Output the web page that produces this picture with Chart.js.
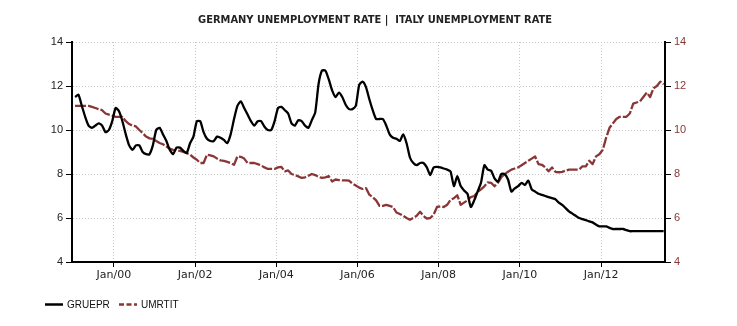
<!DOCTYPE html>
<html>
<head>
<meta charset="utf-8">
<script src="https://cdn.jsdelivr.net/npm/chart.js@4/dist/chart.umd.min.js"></script>
<style>
  html, body { margin: 0; padding: 0; background: #fff; }
  #wrap { width: 737px; height: 326px; }
</style>
</head>
<body>
<div id="wrap"><canvas id="myChart" width="737" height="326"></canvas></div>
<script>
'use strict';

// monthly series, Jan 1999 .. Jul 2013
const startYear = 1999;
const germany = [
  11.5, 11.6, 11.1, 10.6, 10.2, 10.1, 10.2, 10.3, 10.2, 9.9, 10.0, 10.4,
  11.0, 10.85, 10.4, 9.8, 9.3, 9.1, 9.3, 9.3, 9.0, 8.9, 8.9, 9.3,
  10.0, 10.1, 9.8, 9.5, 9.1, 8.9, 9.2, 9.2, 9.05, 8.95, 9.4, 9.7,
  10.4, 10.4, 9.9, 9.6, 9.5, 9.5, 9.7, 9.65, 9.55, 9.4, 9.8, 10.5,
  11.1, 11.3, 11.0, 10.7, 10.4, 10.2, 10.4, 10.4, 10.15, 10.0, 10.0, 10.4,
  11.0, 11.05, 10.9, 10.75, 10.3, 10.2, 10.45, 10.4, 10.2, 10.1, 10.45, 10.8,
  12.1, 12.7, 12.7, 12.3, 11.8, 11.5, 11.7, 11.5, 11.15, 10.95, 10.95, 11.1,
  12.05, 12.2, 11.95, 11.4, 10.9, 10.5, 10.5, 10.5, 10.2, 9.8, 9.65, 9.6,
  9.5, 9.8, 9.4, 8.75, 8.5, 8.4, 8.5, 8.5, 8.3, 7.95, 8.3, 8.32,
  8.3, 8.25, 8.2, 8.12, 7.45, 7.9, 7.45, 7.25, 7.1, 6.5, 6.8, 7.2,
  7.6, 8.4, 8.2, 8.15, 7.8, 7.65, 8.0, 8.0, 7.75, 7.2, 7.35, 7.45,
  7.6, 7.5, 7.7, 7.3, 7.2, 7.1, 7.05, 7.0, 6.95, 6.9, 6.85, 6.7,
  6.6, 6.45, 6.3, 6.2, 6.1, 6.0, 5.95, 5.9, 5.85, 5.8, 5.7, 5.62,
  5.62, 5.62, 5.55, 5.5, 5.5, 5.5, 5.5, 5.45, 5.4, 5.4, 5.4, 5.4,
  5.4, 5.4, 5.4, 5.4, 5.4, 5.4, 5.4
];
const italy = [
  11.1, 11.1, 11.1, 11.1, 11.1, 11.05, 11.0, 10.95, 10.9, 10.75, 10.7, 10.65,
  10.6, 10.6, 10.6, 10.4, 10.27, 10.2, 10.16, 10.0, 9.86, 9.7, 9.62, 9.6,
  9.5, 9.41, 9.35, 9.25, 9.15, 9.1, 9.07, 9.05, 9.0, 8.95, 8.88, 8.75,
  8.65, 8.5, 8.5, 8.88, 8.85, 8.8, 8.7, 8.62, 8.6, 8.55, 8.5, 8.42,
  8.8, 8.78, 8.7, 8.5, 8.5, 8.5, 8.45, 8.39, 8.3, 8.23, 8.23, 8.23,
  8.3, 8.32, 8.12, 8.16, 8.0, 7.95, 7.89, 7.82, 7.85, 7.92, 8.0, 7.95,
  7.87, 7.82, 7.85, 7.9, 7.66, 7.75, 7.72, 7.71, 7.71, 7.7, 7.56, 7.48,
  7.38, 7.32, 7.36, 7.06, 6.95, 6.8, 6.55, 6.55, 6.6, 6.55, 6.5, 6.25,
  6.18, 6.1, 6.0, 5.92, 6.0, 6.1, 6.28, 6.1, 5.97, 6.0, 6.15, 6.5,
  6.53, 6.5, 6.6, 6.83, 6.9, 7.03, 6.6, 6.7, 6.8, 6.95, 7.0, 7.18,
  7.3, 7.44, 7.62, 7.6, 7.44, 7.6, 7.85, 8.0, 8.1, 8.2, 8.25, 8.3,
  8.4, 8.5, 8.6, 8.7, 8.8, 8.45, 8.42, 8.3, 8.12, 8.3, 8.1, 8.08,
  8.1, 8.15, 8.2, 8.2, 8.2, 8.2, 8.35, 8.35, 8.6, 8.45, 8.8, 8.9,
  9.1, 9.65, 10.1, 10.3, 10.5, 10.6, 10.6, 10.6, 10.75, 11.2, 11.25, 11.3,
  11.5, 11.7, 11.5, 11.9, 12.0, 12.2, 12.08
];
const seriesNames = ['GRUEPR', 'UMRTIT'];
const titleText = 'GERMANY UNEMPLOYMENT RATE |  ITALY UNEMPLOYMENT RATE';
const tickLabels = ['Jan/00', 'Jan/02', 'Jan/04', 'Jan/06', 'Jan/08', 'Jan/10', 'Jan/12'];
const tickYears = [2000, 2002, 2004, 2006, 2008, 2010, 2012];
const yTicks = [4, 6, 8, 10, 12, 14];

const RED = '#8a3636';
const GRID = '#c9c9c9';

// x is months since Jan 1999, each value sits mid-month
function toPoints(arr) {
  return arr.map((v, i) => ({ x: i + 0.5, y: v }));
}
const tickMonths = tickYears.map(y => (y - startYear) * 12);

const titleAndLegend = {
  id: 'titleAndLegend',
  afterDraw(chart) {
    const ctx = chart.ctx;
    ctx.save();
    ctx.fillStyle = '#222';
    ctx.font = 'bold 11px "DejaVu Sans Condensed", "DejaVu Sans"';
    ctx.textAlign = 'center';
    ctx.textBaseline = 'middle';
    ctx.fillText(titleText, 375, 20);

    // legend row under the x axis
    const y = 304.5;
    const items = [
      { x: 45, ds: chart.data.datasets[0], dash: [] },
      { x: 119, ds: chart.data.datasets[1], dash: [5, 2.5] }
    ];
    ctx.font = '10px "Liberation Sans", Arial';
    ctx.textAlign = 'left';
    items.forEach(it => {
      ctx.beginPath();
      ctx.lineWidth = 2.5;
      ctx.strokeStyle = it.ds.borderColor;
      ctx.setLineDash(it.dash);
      ctx.moveTo(it.x, y);
      ctx.lineTo(it.x + 18, y);
      ctx.stroke();
      ctx.setLineDash([]);
      ctx.fillStyle = '#111';
      ctx.fillText(it.ds.label, it.x + 22, y + 0.5);
    });
    ctx.restore();
  }
};

function fixedTicks(values) {
  return function (scale) {
    scale.ticks = values.map(v => ({ value: v }));
  };
}

const ctx = document.getElementById('myChart').getContext('2d');
const myChart = new Chart(ctx, {
  type: 'line',
  data: {
    datasets: [
      {
        label: seriesNames[0],
        data: toPoints(germany),
        borderColor: '#000',
        borderWidth: 2.3,
        pointRadius: 0,
        tension: 0.2,
        fill: false,
        yAxisID: 'y'
      },
      {
        label: seriesNames[1],
        data: toPoints(italy),
        borderColor: RED,
        borderWidth: 2.3,
        borderDash: [11, 2],
        pointRadius: 0,
        tension: 0,
        fill: false,
        yAxisID: 'y2'
      }
    ]
  },
  options: {
    responsive: false,
    animation: false,
    devicePixelRatio: 1,
    layout: { padding: { top: 42, left: 0, right: 0, bottom: 0 } },
    plugins: {
      legend: { display: false },
      title: { display: false },
      tooltip: { enabled: false }
    },
    elements: { line: { borderJoinStyle: 'round', borderCapStyle: 'butt' } },
    scales: {
      x: {
        type: 'linear',
        min: -0.4,
        max: 174.9,
        afterBuildTicks: fixedTicks(tickMonths),
        afterFit(scale) { scale.height = 64; },
        grid: {
          color: GRID,
          lineWidth: 1,
          drawTicks: true,
          tickLength: 5,
          tickColor: '#000',
          tickWidth: 1
        },
        border: { display: true, color: '#000', width: 2, dash: [1, 2] },
        ticks: {
          autoSkip: false,
          maxRotation: 0,
          padding: 2,
          color: '#222',
          font: { family: '"DejaVu Sans"', size: 11 },
          callback(value) {
            const i = tickMonths.indexOf(value);
            return i >= 0 ? tickLabels[i] : '';
          }
        }
      },
      y: {
        position: 'left',
        min: 4,
        max: 14,
        afterBuildTicks: fixedTicks(yTicks),
        afterFit(scale) { scale.width = 72; },
        grid: {
          color: GRID,
          lineWidth: 1,
          tickLength: 6,
          tickColor: '#000',
          tickWidth: 1
        },
        border: { display: true, color: '#000', width: 2, dash: [1, 2] },
        ticks: {
          padding: 3,
          color: '#222',
          font: { family: '"Liberation Sans", Arial', size: 11 }
        }
      },
      y2: {
        position: 'right',
        min: 4,
        max: 14,
        afterBuildTicks: fixedTicks(yTicks),
        afterFit(scale) { scale.width = 72; },
        grid: {
          drawOnChartArea: false,
          tickLength: 6,
          tickColor: '#000',
          tickWidth: 1
        },
        border: { display: true, color: '#000', width: 2 },
        ticks: {
          padding: 3,
          color: RED,
          font: { family: '"Liberation Sans", Arial', size: 11 }
        }
      }
    }
  },
  plugins: [titleAndLegend]
});
</script>
</body>
</html>
